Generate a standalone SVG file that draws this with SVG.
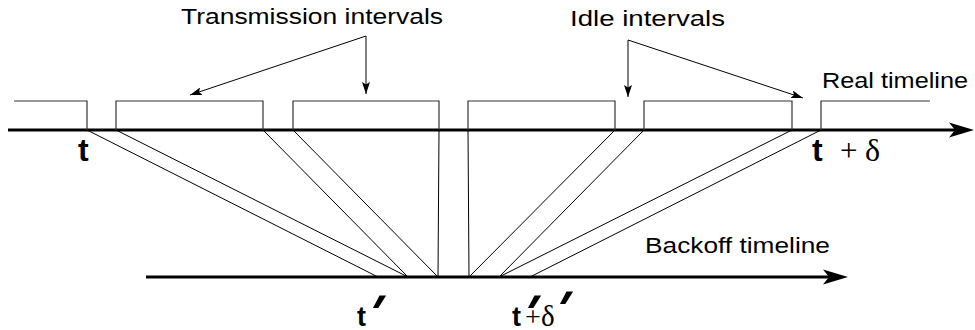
<svg xmlns="http://www.w3.org/2000/svg" width="975" height="330" viewBox="0 0 975 330">
<style>
.axis{stroke:#000;stroke-width:3;fill:none}
.box{stroke:#333;stroke-width:1.2;fill:none}
.map{stroke:#000;stroke-width:1;fill:none}
.ptr{stroke:#000;stroke-width:1;fill:none;marker-end:url(#ah)}
.lbl{font-family:"Liberation Sans",Arial,sans-serif;font-size:22px;fill:#000}
.tb{font-family:"Liberation Sans",Arial,sans-serif;font-weight:bold;fill:#000}
.sym{font-family:"Liberation Serif","Times New Roman",serif;fill:#000}
.pr{font-family:"Liberation Sans",Arial,sans-serif;font-weight:bold;font-size:50px;fill:#000}
</style>
<defs>
<marker id="ah" viewBox="0 0 12 8" refX="12" refY="4" markerWidth="12" markerHeight="8" markerUnits="userSpaceOnUse" orient="auto">
<path d="M0,0 L12,4 L0,8 L2.5,4 z" fill="#000"/>
</marker>
</defs>
<g id="real-timeline">
<line class="axis" x1="8" y1="130" x2="955" y2="130"/>
<path d="M974,130 L949,122.5 L955,130 L949,137.5 z" fill="#000"/>
<text class="lbl" x="822" y="88" textLength="146" lengthAdjust="spacingAndGlyphs">Real timeline</text>
</g>
<g id="backoff-timeline">
<line class="axis" x1="146" y1="277" x2="830" y2="277"/>
<path d="M848,277 L823,269.5 L829,277 L823,284.5 z" fill="#000"/>
<text class="lbl" x="645" y="253" textLength="185" lengthAdjust="spacingAndGlyphs">Backoff timeline</text>
</g>
<g id="intervals">
<polyline class="box" points="14,101 87,101 87,130"/>
<polyline class="box" points="116,130 116,101 263,101 263,130"/>
<polyline class="box" points="293,130 293,101 439,101 439,130"/>
<polyline class="box" points="468,130 468,101 615,101 615,130"/>
<polyline class="box" points="644,130 644,101 792,101 792,130"/>
<polyline class="box" points="821,130 821,101 930,101"/>
</g>
<g id="connectors">
<line class="map" x1="87" y1="130" x2="378" y2="277"/>
<line class="map" x1="116" y1="130" x2="408" y2="277"/>
<line class="map" x1="263" y1="130" x2="408" y2="277"/>
<line class="map" x1="293" y1="130" x2="438" y2="277"/>
<line class="map" x1="439" y1="130" x2="438" y2="277"/>
<line class="map" x1="468" y1="130" x2="469" y2="277"/>
<line class="map" x1="615" y1="130" x2="469" y2="277"/>
<line class="map" x1="644" y1="130" x2="499" y2="277"/>
<line class="map" x1="792" y1="130" x2="499" y2="277"/>
<line class="map" x1="821" y1="130" x2="530" y2="277"/>
<line class="ptr" x1="366" y1="36" x2="190" y2="95"/>
<line class="ptr" x1="366" y1="36" x2="366" y2="94"/>
<line class="ptr" x1="628" y1="40" x2="628" y2="97"/>
<line class="ptr" x1="628" y1="40" x2="803" y2="98"/>
</g>
<g id="labels">
<text class="lbl" x="181" y="24" textLength="262" lengthAdjust="spacingAndGlyphs">Transmission intervals</text>
<text class="lbl" x="570" y="26" textLength="155" lengthAdjust="spacingAndGlyphs">Idle intervals</text>
<text class="tb" x="78" y="161" font-size="32">t</text>
<text class="tb" x="812" y="161" font-size="32">t</text>
<text class="sym" x="840" y="161" font-size="31">+</text>
<text class="sym" x="865" y="161" font-size="32">δ</text>
<text class="tb" x="357" y="326" font-size="27">t</text>
<text class="tb" x="512" y="326" font-size="27">t</text>
<text class="sym" x="525" y="326" font-size="28">+</text>
<text class="sym" x="541" y="326" font-size="29">δ</text>
<text class="pr" transform="translate(357,330) skewX(-30)">'</text>
<text class="pr" transform="translate(512,330) skewX(-30)">'</text>
<text class="pr" transform="translate(544,326) skewX(-30)">'</text>
</g>
</svg>
